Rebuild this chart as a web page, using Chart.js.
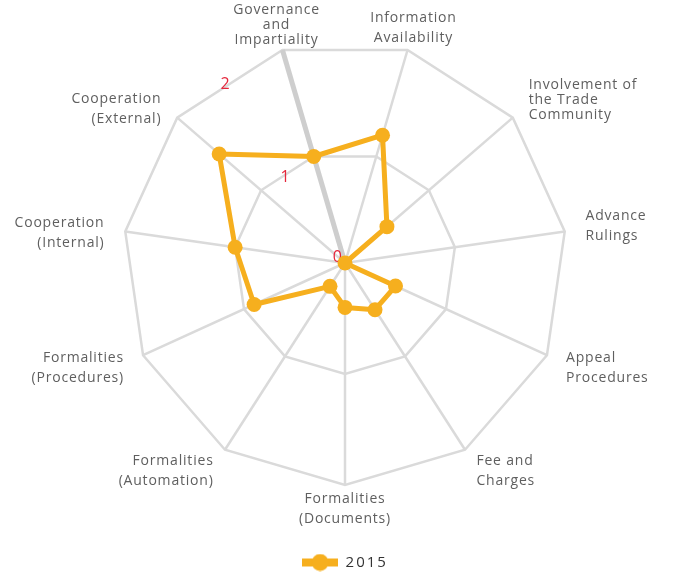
<!DOCTYPE html>
<html>
<head>
<meta charset="utf-8">
<script src="https://cdn.jsdelivr.net/npm/chart.js@4.4.1/dist/chart.umd.min.js"></script>
<style>
  html, body { margin: 0; padding: 0; background: #fff; }
</style>
</head>
<body>
<canvas id="radar-chart" width="673" height="580"></canvas>
<script>
var categories = [
  ['Governance', 'and', 'Impartiality'],
  ['Information', 'Availability'],
  ['Involvement of', 'the Trade', 'Community'],
  ['Advance', 'Rulings'],
  ['Appeal', 'Procedures'],
  ['Fee and', 'Charges'],
  ['Formalities', '(Documents)'],
  ['Formalities', '(Automation)'],
  ['Formalities', '(Procedures)'],
  ['Cooperation', '(Internal)'],
  ['Cooperation', '(External)']
];
var seriesName = '2015';
var values2015 = [1.0, 1.2, 0.5, 0, 0.5, 0.5, 0.4, 0.25, 0.9, 1.0, 1.5];
var tickValues = [0, 1, 2];

var lineColor = '#f6af1e';

// legend marker: a bar with a dot, like the series itself
var legendMark = document.createElement('canvas');
legendMark.width = 36;
legendMark.height = 18;
var lm = legendMark.getContext('2d');
lm.fillStyle = lineColor;
lm.fillRect(0, 5, 36, 8);
lm.beginPath();
lm.arc(18, 9, 8.5, 0, Math.PI * 2);
lm.fill();

var textPlugin = {
  id: 'radarText',
  beforeLayout: function(chart) {
    chart.ctx.letterSpacing = '2px';
  },
  beforeDraw: function(chart) {
    chart.ctx.letterSpacing = '2px';
  },
  beforeDatasetsDraw: function(chart) {
    var scale = chart.scales.r;
    var ctx = chart.ctx;
    var a = scale.getIndexAngle(0) - Math.PI / categories.length;
    ctx.save();
    ctx.letterSpacing = '0px';
    ctx.font = '16px "Open Sans"';
    ctx.fillStyle = '#e5263b';
    tickValues.forEach(function(v) {
      var d = scale.getDistanceFromCenterForValue(v);
      var x = scale.xCenter + Math.sin(a) * d;
      var y = scale.yCenter - Math.cos(a) * d;
      if (v === 0) {
        ctx.textAlign = 'right';
        ctx.textBaseline = 'alphabetic';
        ctx.fillText(String(v), scale.xCenter - 3, scale.yCenter - 1);
      } else {
        ctx.textAlign = 'center';
        ctx.textBaseline = 'middle';
        ctx.fillText(String(v), x, y + 8);
      }
    });
    ctx.restore();
  },
  afterDatasetsDraw: function(chart) {
    var scale = chart.scales.r;
    var ctx = chart.ctx;
    var R = scale.drawingArea;
    ctx.save();
    ctx.letterSpacing = '0.8px';
    ctx.font = '14px "Open Sans"';
    ctx.fillStyle = '#5f5f5f';
    ctx.textBaseline = 'middle';
    categories.forEach(function(lines, i) {
      var p = scale.getPointPosition(i, R);
      var s = (p.x - scale.xCenter) / R;
      var c = (scale.yCenter - p.y) / R;
      var lh = lines.length > 2 ? 15 : 20;
      var h = lines.length * lh;
      var side = Math.abs(s) < 0.3 ? 'center' : (s > 0 ? 'left' : 'right');
      ctx.textAlign = side;
      var x = p.x + 21 * s;
      var yc = p.y - c * h / 2 + (c > 0 ? -3 : 4);
      if (side === 'right' && c > 0) yc += 7;
      lines.forEach(function(t, k) {
        ctx.fillText(t, x, yc - h / 2 + lh / 2 + k * lh);
      });
    });
    ctx.restore();
  }
};

var radarChart = new Chart(document.getElementById('radar-chart'), {
  type: 'radar',
  data: {
    labels: categories,
    datasets: [{
      label: seriesName,
      data: values2015,
      fill: false,
      borderColor: lineColor,
      backgroundColor: lineColor,
      borderWidth: 5,
      borderJoinStyle: 'round',
      pointRadius: 7.5,
      pointHoverRadius: 7.5,
      pointBorderWidth: 0,
      pointBackgroundColor: lineColor
    }]
  },
  options: {
    responsive: false,
    animation: false,
    devicePixelRatio: 1,
    layout: {
      padding: { top: 41, bottom: 0, left: 123, right: 106 }
    },
    plugins: {
      title: { display: false },
      tooltip: { enabled: false },
      legend: {
        display: true,
        position: 'bottom',
        title: {
          display: true,
          text: ' ',
          font: { size: 10, lineHeight: 1 },
          padding: { top: 60, bottom: 0 }
        },
        labels: {
          usePointStyle: true,
          pointStyleWidth: 36,
          padding: 0,
          color: '#333',
          font: { family: 'Open Sans', size: 15 },
          generateLabels: function(chart) {
            var items = Chart.defaults.plugins.legend.labels.generateLabels(chart);
            items.forEach(function(it) { it.pointStyle = legendMark; });
            return items;
          }
        }
      }
    },
    scales: {
      r: {
        min: 0,
        max: 2,
        startAngle: -180 / 11,
        ticks: { display: false, stepSize: 1 },
        pointLabels: { display: false },
        grid: { circular: false, color: '#dadada', lineWidth: 2.5 },
        angleLines: {
          color: function(c) { return c.index === 0 ? '#cecece' : '#dadada'; },
          lineWidth: function(c) { return c.index === 0 ? 5 : 2.5; }
        }
      }
    }
  },
  plugins: [textPlugin]
});
</script>
</body>
</html>
